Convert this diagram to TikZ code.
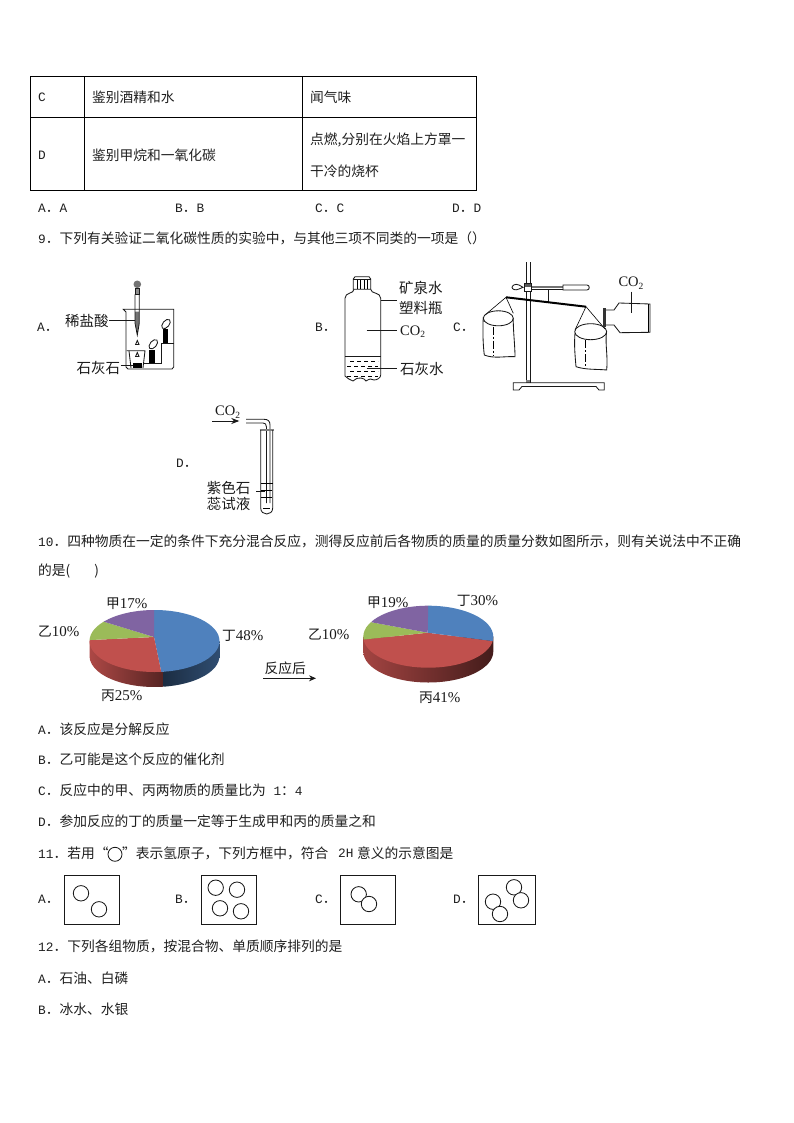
\documentclass[tikz,border=0pt]{standalone}
\usepackage{fontspec}
\setmainfont{Liberation Mono}
\newfontfamily\zhfont{Noto Sans CJK SC}
\newfontfamily\serfont{Liberation Serif}
\usetikzlibrary{arrows.meta}
\def\ZH#1{{\zhfont\fontsize{13.75}{14}\selectfont #1}}
\def\LA#1{{\fontsize{12.8}{14}\selectfont #1}}
\def\FIG#1{{\zhfont\fontsize{14.5}{15}\selectfont #1}}
\def\NUM#1{{\serfont\fontsize{15}{15}\selectfont #1}}
\def\COTWO{{\serfont\fontsize{14.5}{15}\selectfont CO\raisebox{-0.2em}{\fontsize{9.5}{9}\selectfont 2}}}
\def\atom(#1,#2){\draw[thin line] (#1,#2) circle [radius=7.7pt];}
\definecolor{pieblue}{HTML}{4F81BD}
\definecolor{piered}{HTML}{C0504D}
\definecolor{piegreen}{HTML}{9BBB59}
\definecolor{piepurple}{HTML}{8064A2}
\tikzset{
  txt/.style={anchor=west,inner sep=0pt,text=black!88},
  fig/.style={anchor=west,inner sep=0pt,text=black!90},
  thin line/.style={line width=0.85pt,black!90},
  rule/.style={line width=1pt,black},
}
\begin{document}
\begin{tikzpicture}[x=1pt,y=-1pt]
  \useasboundingbox (0,0) rectangle (794,1123);
  %%%%% table %%%%%
  \draw[rule] (30.3,76.6) rectangle (476.7,191);
  \draw[rule] (30.3,118) -- (476.7,118);
  \draw[rule] (84.3,76.6) -- (84.3,191);
  \draw[rule] (302.6,76.6) -- (302.6,191);
  \node[txt] (rowc) at (38,97) {\LA{C}};
  \node[txt] (rowcgoal) at (92,97) {\ZH{鉴别酒精和水}};
  \node[txt] (rowcway) at (310,97) {\ZH{闻气味}};
  \node[txt] (rowd) at (38,155) {\LA{D}};
  \node[txt] (rowdgoal) at (92,155) {\ZH{鉴别甲烷和一氧化碳}};
  \node[txt] (rowdway) at (310,140) {\ZH{点燃,分别在火焰上方罩一}};
  \node[txt] (rowdwayb) at (310,171) {\ZH{干冷的烧杯}};
  \node[txt] (opta) at (38,208) {\LA{A}\ZH{．}\LA{A}};
  \node[txt] (optb) at (175,208) {\LA{B}\ZH{．}\LA{B}};
  \node[txt] (optc) at (315,208) {\LA{C}\ZH{．}\LA{C}};
  \node[txt] (optd) at (452,208) {\LA{D}\ZH{．}\LA{D}};
  %%%%% question 9 %%%%%
  \node[txt] (qnine) at (38,238) {\LA{9}\ZH{．下列有关验证二氧化碳性质的实验中，与其他三项不同类的一项是（）}};
  \node[txt] (labela) at (37,327) {\LA{A}\ZH{．}};
  \node[txt] (labelb) at (315,327) {\LA{B}\ZH{．}};
  \node[txt] (labelc) at (453,327) {\LA{C}\ZH{．}};
  \node[txt] (labeld) at (176,463) {\LA{D}\ZH{．}};
  % beaker A
  \fill[black!55] (137.3,284.3) circle [radius=3.8pt];
  \draw[thin line,fill=black!45] (135,288.3) rectangle (139.3,294.3);
  \fill[black!55] (135.2,311.7) -- (139.1,311.7) -- (139.1,323) -- (137.3,335) -- (135.2,323) -- cycle;
  \draw[thin line] (135,294.3) -- (135,323) -- (137.3,335) -- (139.3,323) -- (139.3,294.3);
  \draw[thin line] (123.3,309.3) -- (173.7,309.3) -- (173.7,367) -- (172,369) -- (128,369) -- (126,367) -- (126,312) -- cycle;
  \draw[thin line] (137.3,340.5) -- (139,344.5) -- (135.6,344.5) -- cycle;
  \draw[thin line] (137.3,352.5) -- (139,356.5) -- (135.6,356.5) -- cycle;
  \draw[thin line] (126.7,350.7) -- (145,350.7) -- (143,368);
  \draw[thin line] (129,351) -- (131,368);
  \fill[black] (132.7,363.3) rectangle (141.7,368);
  \draw[thin line] (143.5,363.3) -- (161.7,363.3) -- (161.7,343.3) -- (173.7,343.3);
  \fill[black] (149.3,350) rectangle (155,363.3);
  \fill[black] (162.7,329.3) rectangle (168,343.3);
  \draw[thin line] (153.3,344.3) ellipse [x radius=5.5pt,y radius=3.2pt,rotate=50];
  \draw[thin line] (166,324) ellipse [x radius=5.5pt,y radius=3.2pt,rotate=50];
  \node[fig] (acid) at (65,320.7) {\FIG{稀盐酸}};
  \node[fig] (stone) at (76.5,367.7) {\FIG{石灰石}};
  \draw[thin line] (acid.east) -- (135,320.7);
  \draw[thin line] (120.5,365.7) -- (133,365.7);
  % bottle B
  \draw[thin line] (353.3,279) -- (355,276.7) -- (369,276.7) -- (370.7,279) -- (370.7,289.3) -- (353.3,289.3) -- cycle;
  \draw[thin line] (353.3,279) -- (370.7,279);
  \foreach \capx in {357,360.5,364,367.5} \draw[line width=0.6pt] (\capx,279.5) -- (\capx,289);
  \draw[thin line] (354,289.3) .. controls (354,294) and (345,292) .. (345,298.3) -- (345,376) .. controls (347,379) and (350,379) .. (353,381) .. controls (356,379) and (358,377) .. (361,378) .. controls (364,378) and (365,380) .. (366,381) .. controls (369,379) and (372,378) .. (374,380) .. controls (377,380) and (380.7,378) .. (380.7,375) -- (380.7,298.3) .. controls (380.7,292) and (370.7,294) .. (370.7,289.3);
  \draw[thin line] (345,356) -- (380.7,356);
  \draw[line width=0.6pt,dash pattern=on 4pt off 3pt] (350,361) -- (378,361);
  \draw[line width=0.6pt,dash pattern=on 4pt off 3pt] (347,366.7) -- (378,366.7);
  \draw[line width=0.6pt,dash pattern=on 4pt off 3pt] (350,371) -- (378,371);
  \draw[line width=0.6pt,dash pattern=on 4pt off 3pt] (347,376) -- (378,376);
  \node[fig] (bottlea) at (399,288.3) {\FIG{矿泉水}};
  \node[fig] (bottleb) at (399,308.3) {\FIG{塑料瓶}};
  \node[fig] (bottlegas) at (400,331.7) {\COTWO};
  \node[fig] (bottlewater) at (400,369.3) {\FIG{石灰水}};
  \draw[thin line] (380.7,300) -- (396.7,300);
  \draw[thin line] (366.7,330) -- (396.7,330);
  \draw[thin line] (366.7,368.3) -- (396.7,368.3);
  % stand C
  \draw[thin line] (526,262) -- (526,382.7);
  \draw[thin line] (530.7,262) -- (530.7,382.7);
  \fill[black!50] (526.3,380) rectangle (530.4,382.7);
  \draw[thin line] (513.3,382.7) -- (604.3,382.7) -- (604.3,390) -- (599,390) -- (596,386.5) -- (522,386.5) -- (519,390) -- (513.3,390) -- cycle;
  \draw[thin line,fill=white] (524.5,283) rectangle (531.5,291.5);
  \fill[black!65] (525,283.5) rectangle (531,287);
  \draw[thin line] (523,287.3) -- (519,285) .. controls (515,283) and (512,286) .. (512,287.3) .. controls (512,289) and (515,291) .. (519,289) -- cycle;
  \draw[thin line] (531.5,286) -- (563,286);
  \draw[thin line] (531.5,289) -- (563,289);
  \fill[black!55] (532,286.3) rectangle (563,287.5);
  \draw[thin line] (563,285) -- (587,285) .. controls (590,285) and (590,290) .. (587,290) -- (563,290) -- cycle;
  \draw[thin line] (548.3,290) -- (548.3,301.7);
  \draw[line width=2pt,black] (506,297.3) -- (586,306.7);
  \draw[line width=0.6pt] (485,315) -- (506,297.3) -- (513.3,313.3);
  \draw[thin line] (498.3,318.3) ellipse [x radius=15pt,y radius=7.5pt];
  \draw[thin line] (483.3,317) .. controls (482.5,330) and (483,345) .. (484.3,355) .. controls (494,359) and (505,356) .. (515,356.7) .. controls (515,345) and (513,330) .. (513.3,318);
  \draw[line width=0.6pt,dash pattern=on 8pt off 2pt on 2pt off 2pt] (493.3,326.7) -- (493.3,355);
  \draw[line width=0.6pt] (575,330) -- (586,306.7) -- (605,329);
  \draw[thin line] (590.7,331.7) ellipse [x radius=16pt,y radius=8pt];
  \draw[thin line] (575,333) .. controls (574,345) and (575,355) .. (576,366.7) .. controls (586,370) and (597,369) .. (606.7,370) .. controls (608,355) and (605,345) .. (606.5,332);
  \draw[line width=0.6pt,dash pattern=on 8pt off 2pt on 2pt off 2pt] (585.7,340) -- (585.7,367);
  \fill[black!80] (603.3,308.3) rectangle (606,326.7);
  \draw[thin line] (606,310) -- (614,310) -- (619,303) -- (650,304) -- (650,332.3) -- (620,332.7) -- (614,325) -- (606,325);
  \draw[line width=0.6pt] (648,304) -- (648,332);
  \node[fig] (jargas) at (618.3,283.3) {\COTWO};
  \draw[thin line] (631.7,291.7) -- (631.7,313.3);
  % tube D
  \node[fig] (tubegas) at (215,412) {\COTWO};
  \coordinate (gasin) at (212.3,421);
  \coordinate (gasend) at (239.3,421);
  \draw[thin line,-{Stealth[length=8pt,width=6pt]}] (gasin) -- (gasend);
  \draw[thin line] (246,419.3) -- (264,419.3) .. controls (268,419.3) and (270,421) .. (270,425) -- (270,503);
  \draw[thin line] (246,423) -- (263,423) .. controls (265,423) and (266.5,424) .. (266.5,427) -- (266.5,503);
  \draw[line width=1.2pt,black!50] (259.5,430) -- (273.5,430);
  \draw[thin line] (260.7,430) -- (260.7,508) .. controls (260.7,516) and (272.7,516) .. (272.7,508) -- (272.7,430);
  \draw[line width=0.6pt] (260.7,483.3) -- (272.7,483.3);
  \draw[line width=0.6pt] (261,490) -- (272,490);
  \draw[line width=0.6pt] (261,497) -- (272,497);
  \draw[line width=0.6pt] (263,508) -- (270,508);
  \node[fig] (tubea) at (206.7,488) {\FIG{紫色石}};
  \node[fig] (tubeb) at (206.7,504.3) {\FIG{蕊试液}};
  \draw[thin line] (256,491.7) -- (265,491.7);
  %%%%% question 10 %%%%%
  \node[txt] (qten) at (38,541) {\LA{10}\ZH{．四种物质在一定的条件下充分混合反应，测得反应前后各物质的质量的质量分数如图所示，则有关说法中不正确}};
  \node[txt] (qtenb) at (38,571) {\ZH{的是(}\hspace{24pt}\ZH{)}};
  % left pie
  \shade[left color=piered!90!black,right color=piered!45!black] (89.5,641) -- (89.5,656) arc [start angle=180,end angle=277.8,x radius=65pt,y radius=31pt] -- (163.3,671.7) -- cycle;
  \shade[left color=pieblue!35!black,right color=pieblue!60!black] (163.3,671.7) -- (163.3,686.7) arc [start angle=277.8,end angle=360,x radius=65pt,y radius=31pt] -- (219.5,641) -- cycle;
  \begin{scope}
    \clip (154.5,641) ellipse [x radius=65pt,y radius=31pt];
    \fill[pieblue] (154,637) -- (154,600) -- (240,600) -- (240,690) -- (165,690) -- cycle;
    \fill[piered] (154,637) -- (165,690) -- (80,690) -- (80,640.5) -- cycle;
    \fill[piegreen] (154,637) -- (80,640.5) -- (80,610) -- (95,619) -- cycle;
    \fill[piepurple] (154,637) -- (95,619) -- (95,600) -- (154,600) -- cycle;
  \end{scope}
  \node[fig] (leftjia) at (106,604) {\ZH{甲}\NUM{17\%}};
  \node[fig] (leftyi) at (38,632) {\ZH{乙}\NUM{10\%}};
  \node[fig] (leftding) at (222,636) {\ZH{丁}\NUM{48\%}};
  \node[fig] (leftbing) at (101,696) {\ZH{丙}\NUM{25\%}};
  \node[fig] (after) at (264.5,668) {\ZH{反应后}};
  \coordinate (afterin) at (263.3,678.3);
  \coordinate (afterend) at (316,678.3);
  \draw[thin line,-{Stealth[length=7pt,width=6pt]}] (afterin) -- (afterend);
  % right pie
  \shade[left color=piered!85!black,right color=piered!35!black] (363.3,636.7) -- (363.3,651.5) arc [start angle=180,end angle=360,x radius=65pt,y radius=31pt] -- (493.3,636.7) -- cycle;
  \begin{scope}
    \clip (428.3,636.7) ellipse [x radius=65pt,y radius=31pt];
    \fill[piered] (427.7,632.7) -- (500,642) -- (500,690) -- (355,690) -- (355,640.5) -- cycle;
    \fill[pieblue] (427.7,632.7) -- (428.3,600) -- (500,600) -- (500,642) -- cycle;
    \fill[piegreen] (427.7,632.7) -- (355,640.5) -- (355,615) -- (371.7,622.3) -- cycle;
    \fill[piepurple] (427.7,632.7) -- (371.7,622.3) -- (371.7,600) -- (428.3,600) -- cycle;
  \end{scope}
  \node[fig] (rightjia) at (367,602.7) {\ZH{甲}\NUM{19\%}};
  \node[fig] (rightding) at (456.7,601) {\ZH{丁}\NUM{30\%}};
  \node[fig] (rightyi) at (308,635) {\ZH{乙}\NUM{10\%}};
  \node[fig] (rightbing) at (419,698) {\ZH{丙}\NUM{41\%}};
  \node[txt] (tena) at (38,729) {\LA{A}\ZH{．该反应是分解反应}};
  \node[txt] (tenb) at (38,759) {\LA{B}\ZH{．乙可能是这个反应的催化剂}};
  \node[txt] (tenc) at (38,790) {\LA{C}\ZH{．反应中的甲、丙两物质的质量比为}\LA{ 1}\ZH{：}\LA{4}};
  \node[txt] (tend) at (38,821) {\LA{D}\ZH{．参加反应的丁的质量一定等于生成甲和丙的质量之和}};
  %%%%% question 11 %%%%%
  \node[txt] (qel) at (38,853) {\LA{11}\ZH{．若用“}};
  \draw[thin line] (115,854.3) circle [radius=7pt];
  \node[txt] (qelb) at (122,853) {\ZH{”表示氢原子，下列方框中，符合}};
  \node[txt] (qelc) at (338,853) {\LA{2H}};
  \node[txt] (qeld) at (357,853) {\ZH{意义的示意图是}};
  \node[txt] (boxa) at (38,899) {\LA{A}\ZH{．}};
  \node[txt] (boxb) at (175,899) {\LA{B}\ZH{．}};
  \node[txt] (boxc) at (315,899) {\LA{C}\ZH{．}};
  \node[txt] (boxd) at (453,899) {\LA{D}\ZH{．}};
  \draw[thin line] (64.3,875.7) rectangle (119.3,924.3);
  \atom(81,893.3) \atom(99,909.3)
  \draw[thin line] (201.3,875.7) rectangle (256.7,924.3);
  \atom(215.7,887.7) \atom(237,889.7) \atom(220,908.3) \atom(241,911.3)
  \draw[thin line] (340.3,875.7) rectangle (395.3,924.3);
  \atom(358.7,894.3) \draw[thin line,fill=white] (369,904) circle [radius=7.7pt];
  \draw[thin line] (478.3,875.7) rectangle (535.3,924.3);
  \atom(514,887.3) \draw[thin line,fill=white] (521,900.3) circle [radius=7.7pt];
  \atom(493,901.7) \draw[thin line,fill=white] (500,914) circle [radius=7.7pt];
  %%%%% question 12 %%%%%
  \node[txt] (qtw) at (38,946) {\LA{12}\ZH{．下列各组物质，按混合物、单质顺序排列的是}};
  \node[txt] (twa) at (38,978) {\LA{A}\ZH{．石油、白磷}};
  \node[txt] (twb) at (38,1009) {\LA{B}\ZH{．冰水、水银}};
\end{tikzpicture}
\end{document}
